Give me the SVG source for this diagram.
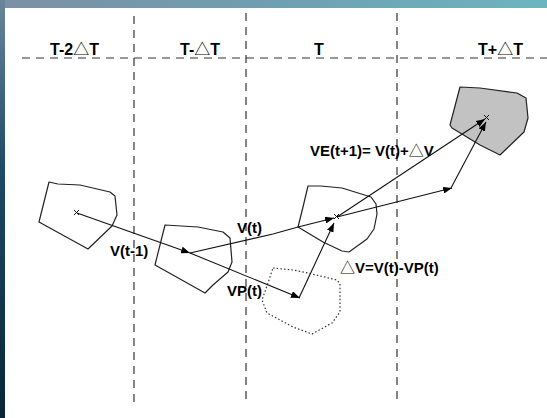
<svg xmlns="http://www.w3.org/2000/svg" width="547" height="418" viewBox="0 0 547 418">
  <defs>
    <linearGradient id="topBar" x1="0" y1="0" x2="1" y2="0">
      <stop offset="0" stop-color="#7c90a4"/>
      <stop offset="0.5" stop-color="#6f9fb0"/>
      <stop offset="1" stop-color="#6cb5c0"/>
    </linearGradient>
    <linearGradient id="sideBar" x1="0" y1="0" x2="0" y2="1">
      <stop offset="0" stop-color="#6a869c"/>
      <stop offset="0.4" stop-color="#1d4a66"/>
      <stop offset="1" stop-color="#082636"/>
    </linearGradient>
    <marker id="head" markerUnits="userSpaceOnUse" markerWidth="10" markerHeight="7" refX="9" refY="3.5" orient="auto">
      <path d="M0,0 L9,3.5 L0,7 z" fill="#000"/>
    </marker>
  </defs>
  <style>
    .grid { stroke: #333; stroke-width: 1.2; fill: none; stroke-dasharray: 8 6; }
    .cell { stroke: #222; stroke-width: 1.2; fill: none; stroke-linejoin: round; }
    .ghost { stroke: #333; stroke-width: 1.2; fill: none; stroke-dasharray: 1.5 2.2; }
    .hit { fill: #c2c2c2; }
    .vec { stroke: #111; stroke-width: 1.1; fill: none; marker-end: url(#head); }
    .mark { stroke: #111; stroke-width: 1; }
    text { font-family: "Liberation Sans", Arial, sans-serif; font-weight: bold; fill: #000; }
    .head { font-size: 16px; }
    .lab { font-size: 15px; }
    .tri { font-family: "Noto Sans CJK SC", "DejaVu Sans", sans-serif; font-weight: normal; }
  </style>

  <!-- slide frame -->
  <rect x="0" y="0" width="547" height="418" fill="#ffffff"/>
  <rect x="0" y="0" width="547" height="8" fill="url(#topBar)"/>
  <rect x="0" y="0" width="5" height="418" fill="url(#sideBar)"/>

  <!-- time axis -->
  <g id="time-grid">
    <line class="grid" x1="22" y1="58" x2="547" y2="58"/>
    <line class="grid" x1="134" y1="16" x2="134" y2="406"/>
    <line class="grid" x1="246" y1="13" x2="246" y2="402"/>
    <line class="grid" x1="397" y1="13" x2="397" y2="402"/>
  </g>
  <g id="time-labels">
    <text class="head" x="50" y="55">T-2<tspan class="tri">△</tspan>T</text>
    <text class="head" x="180" y="55">T-<tspan class="tri">△</tspan>T</text>
    <text class="head" x="314" y="55">T</text>
    <text class="head" x="478" y="55">T+<tspan class="tri">△</tspan>T</text>
  </g>

  <!-- cell at T-2dT -->
  <g id="cell-t-2">
    <polygon class="cell" points="49,182 58,184 80,185 110,192 115,196 117,215 112,226 88,249 39,222"/>
    <path class="mark" d="M74,210 l5,5 M79,210 l-5,5"/>
  </g>
  <!-- cell at T-dT -->
  <g id="cell-t-1">
    <polygon class="cell" points="165,225 198,227 223,232 230,238 232,262 228,272 213,285 205,293 155,265"/>
  </g>
  <!-- cell at T -->
  <g id="cell-t">
    <polygon class="cell" points="308,186 321,186 342,188 371,197 376,204 377,214 374,229 367,239 349,252 342,251 323,242 298,227 303,207"/>
    <path class="mark" d="M334,214 l5,5 M339,214 l-5,5"/>
  </g>
  <!-- predicted cell position -->
  <g id="cell-predicted">
    <polygon class="ghost" points="273,268 293,270 308,273 337,280 340,284 340,312 332,323 312,334 293,327 267,313 262,300 268,283"/>
  </g>
  <!-- extrapolated cell at T+dT -->
  <g id="cell-t+1">
    <polygon class="hit cell" points="460,87 480,88 517,93 526,98 528,118 524,132 500,155 480,145 452,128 450,125"/>
    <path class="mark" d="M484,115 l5,5 M489,115 l-5,5"/>
  </g>

  <!-- motion vectors -->
  <g id="connectors">
    <line class="vec" x1="77" y1="213" x2="190" y2="253"/>
    <polyline class="vec" points="190,253 273,234 298,227 334,218"/>
    <line class="vec" x1="190" y1="253" x2="300" y2="298"/>
    <line class="vec" x1="299" y1="298" x2="334" y2="223"/>
    <line class="vec" x1="337" y1="217" x2="485" y2="119"/>
    <line class="vec" x1="337" y1="217" x2="452" y2="188"/>
    <line class="vec" x1="451" y1="188" x2="486" y2="122"/>
  </g>

  <!-- vector labels -->
  <g id="vector-labels">
    <text class="lab" x="110" y="256">V(t-1)</text>
    <text class="lab" x="237" y="233">V(t)</text>
    <text class="lab" x="227" y="296">VP(t)</text>
    <text class="lab" x="340" y="273"><tspan class="tri">△</tspan>V=V(t)-VP(t)</text>
    <text class="lab" x="310" y="156">VE(t+1)= V(t)+<tspan class="tri">△</tspan>V</text>
  </g>
</svg>
